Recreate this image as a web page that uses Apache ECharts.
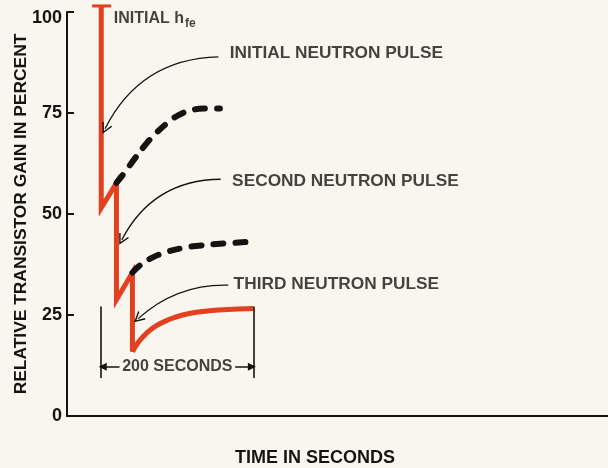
<!DOCTYPE html>
<html>
<head>
<meta charset="utf-8">
<script src="https://cdn.jsdelivr.net/npm/echarts@6/dist/echarts.min.js"></script>
<style>
  html, body { margin: 0; padding: 0; background: #f8f6ef; }
  #chart { width: 608px; height: 468px; }
</style>
</head>
<body>
<div id="chart"></div>
<script>
// Relative transistor gain (percent of initial hfe) against time in seconds.
// Sawtooth: drop at each neutron pulse, partial recovery, next pulse.
const pulseDrops = [[45, 101.5], [45, 51.5], [65, 57.7], [65, 28.8], [86, 35.5], [86, 15.9]];
// Recovery after the third pulse (measured, solid)
const recoveryAfterThird = [[86, 15.9], [94, 18.3], [104, 20.4], [117, 22.3], [133, 23.8], [152, 25.0], [175, 25.8], [205, 26.3], [245, 26.6]];
// Recovery that would have followed the first and second pulses (dashed)
const recoveryAfterFirst = [[65, 57.7], [77, 60.6], [89, 63.7], [102, 66.9], [116, 69.8], [131, 72.4], [146, 74.4], [162, 75.6], [180, 76.1], [201, 76.1]];
const recoveryAfterSecond = [[86, 35.5], [96, 37.3], [110, 39.0], [128, 40.4], [150, 41.5], [176, 42.2], [207, 42.7], [240, 43.1]];
// Initial hfe marker
const initialCap = [[33, 101.5], [58, 101.5]];

// Y axis ticks
const yTicks = [0, 25, 50, 75, 100];

// Annotations
const pulseLabels = ['INITIAL NEUTRON PULSE', 'SECOND NEUTRON PULSE', 'THIRD NEUTRON PULSE'];
const pulseLabelAt = [[214, 89.7], [217, 58.2], [219, 32.5]];
const pulseArrowFrom = [[199, 88.9], [202, 58.6], [212, 32.4]];
const pulseArrowTo = [[50, 71.1], [72, 43.6], [93.5, 24.1]];
const spanStart = 45, spanEnd = 245;
const spanLabel = '200 SECONDS';

const INK = '#161412';
const RED = '#e2401e';
const FONT = '"Liberation Sans", Arial, sans-serif';

const chart = echarts.init(document.getElementById('chart'), null, { renderer: 'canvas' });

const chevron = 'path://M5,0 L10,11 L8.8,11.6 L5,3.2 L1.2,11.6 L0,11 Z';

const option = {
  backgroundColor: '#f8f6ef',
  animation: false,
  grid: { left: 67, right: -3, top: 12, bottom: 52, containLabel: false, outerBoundsMode: 'none' },
  xAxis: {
    type: 'value', min: 0, max: 715,
    axisLine: { show: true, onZero: false, lineStyle: { color: INK, width: 2 } },
    axisTick: { show: false }, axisLabel: { show: false }, splitLine: { show: false }
  },
  yAxis: {
    type: 'value', min: yTicks[0], max: yTicks[yTicks.length - 1], interval: 25,
    axisLine: { show: true, onZero: false, lineStyle: { color: INK, width: 2 } },
    axisTick: { show: true, inside: true, length: 7, lineStyle: { color: INK, width: 2 } },
    axisLabel: {
      margin: 5, color: INK, fontFamily: FONT, fontSize: 18, fontWeight: 'bold',
      formatter: v => (v === 100 ? '{top|100}' : String(v)),
      rich: { top: { fontFamily: FONT, fontSize: 18, fontWeight: 'bold', color: INK, padding: [12, 0, 0, 0] } }
    },
    splitLine: { show: false }
  },
  graphic: [
    {
      type: 'text', x: 21, y: 214, rotation: Math.PI / 2, silent: true,
      style: { text: 'RELATIVE TRANSISTOR GAIN IN PERCENT', fill: INK, font: 'bold 17.4px ' + FONT, align: 'center', verticalAlign: 'middle' }
    },
    {
      type: 'text', x: 315, y: 458, silent: true,
      style: { text: 'TIME IN SECONDS', fill: INK, font: 'bold 18px ' + FONT, align: 'center', verticalAlign: 'middle' }
    }
  ],
  series: [
    {
      type: 'line', data: pulseDrops, clip: false, symbol: 'none', silent: true,
      lineStyle: { color: RED, width: 5, join: 'miter' }, z: 3
    },
    {
      type: 'line', data: recoveryAfterThird, clip: false, symbol: 'none', silent: true,
      smooth: 0.5, lineStyle: { color: RED, width: 5, cap: 'butt' }, z: 3
    },
    {
      type: 'line', data: initialCap, clip: false, symbol: 'none', silent: true,
      lineStyle: { color: RED, width: 3 }, z: 3
    },
    {
      type: 'line', data: recoveryAfterFirst, symbol: 'none', silent: true, smooth: 0.5,
      lineStyle: { color: INK, width: 6, type: [10, 12], cap: 'round' }, z: 4
    },
    {
      type: 'line', data: recoveryAfterSecond, symbol: 'none', silent: true, smooth: 0.5,
      lineStyle: { color: INK, width: 6, type: [10, 12], cap: 'round' }, z: 4
    },
    // Curved pointers from the pulse labels to the gain curve
    {
      type: 'lines', coordinateSystem: 'cartesian2d', silent: true, z: 5,
      symbol: ['none', chevron], symbolSize: [9, 11],
      lineStyle: { color: INK, width: 1.3, curveness: -0.3, opacity: 1 },
      data: pulseArrowFrom.map((p, i) => ({
        coords: [p, pulseArrowTo[i]],
        lineStyle: { curveness: i === 2 ? -0.2 : -0.3 }
      }))
    },
    // 200-second span bracket
    {
      type: 'lines', coordinateSystem: 'cartesian2d', silent: true, z: 5,
      symbol: 'none',
      lineStyle: { color: INK, width: 1.6, opacity: 1 },
      data: [
        { coords: [[spanStart, 27.1], [spanStart, 9.4]] },
        { coords: [[spanEnd, 27.1], [spanEnd, 9.4]] }
      ]
    },
    {
      type: 'lines', coordinateSystem: 'cartesian2d', silent: true, z: 5,
      symbol: ['none', 'triangle'], symbolSize: [6, 8],
      lineStyle: { color: INK, width: 1.6, opacity: 1 },
      data: [
        { coords: [[spanStart + 24, 12.2], [spanStart + 2, 12.2]] },
        { coords: [[spanEnd - 24, 12.2], [spanEnd - 2, 12.2]] }
      ]
    },
    // Text annotations
    {
      type: 'scatter', symbolSize: 0, silent: true, z: 6,
      label: { show: true, position: 'right', distance: 0, color: INK, fontFamily: FONT, fontSize: 17.3, fontWeight: 'bold', formatter: p => p.name },
      data: pulseLabelAt.map((p, i) => ({ name: pulseLabels[i], value: p }))
    },
    {
      type: 'scatter', symbolSize: 0, silent: true, z: 6,
      label: { show: true, position: 'inside', color: INK, fontFamily: FONT, fontSize: 16, fontWeight: 'bold', formatter: p => p.name },
      data: [{ name: spanLabel, value: [(spanStart + spanEnd) / 2, 12.2] }]
    },
    {
      type: 'scatter', symbolSize: 0, silent: true, z: 6,
      label: {
        show: true, position: 'right', distance: 0,
        formatter: '{a|INITIAL h}{b|fe}',
        rich: {
          a: { fontFamily: FONT, fontSize: 16, fontWeight: 'bold', color: INK, lineHeight: 22 },
          b: { fontFamily: FONT, fontSize: 12, fontWeight: 'bold', color: INK, lineHeight: 12, verticalAlign: 'bottom', padding: [0, 0, 0, 1] }
        }
      },
      data: [{ name: 'hfe', value: [61.5, 98.3] }]
    }
  ]
};

chart.setOption(option);
</script>
</body>
</html>
